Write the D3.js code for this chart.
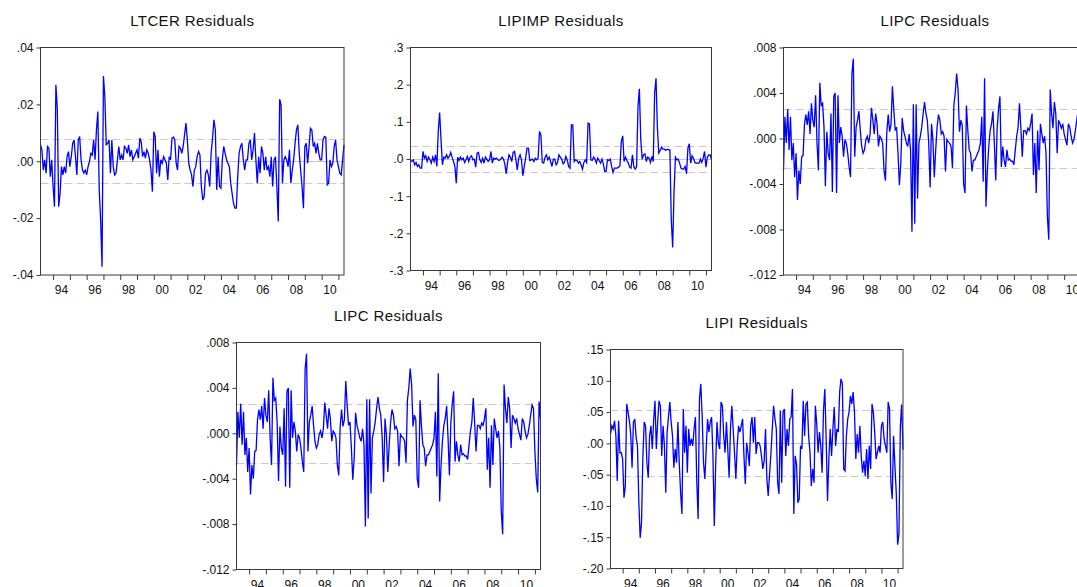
<!DOCTYPE html>
<html>
<head>
<meta charset="utf-8">
<script src="https://cdn.jsdelivr.net/npm/d3@7"></script>
<style>
  html, body { margin: 0; padding: 0; background: #fff; overflow: hidden; }
  svg { display: block; font-family: "Liberation Sans", Arial, sans-serif; }
</style>
</head>
<body>
<svg id="chart" width="1077" height="587"></svg>
<script>
// Monthly residual series, first observation 1993M4 (one row per year).
const startYear = 1993, startMonth = 4;

const ltcer = [
  .0058, .004, -.0031, .0005, -.0042, .0052, .0046, -.0054, .0005,
  -.0089, -.016, .0269, .0187, -.016, -.0113, -.0019, -.0048, -.0019, -.0042, .0016, .0034,
  -.0019, .0016, .0063, .0075, .0016, -.0048, .0075, .0087, .0005, -.0031, -.0042, -.0031,
  -.0048, -.0019, -.0001, .0028, .0022, .0075, .0005, .011, .0175, -.0101, -.0207, -.0371,
  .030, .0228, .0058, .0063, .0075, -.0042, .0075, -.0019, -.0048, -.0042, .0005, .0052,
  .0005, .0022, .0005, .0052, .0046, .0028, .0058, .0016, .004, .0005, .0016, .0028,
  .004, .0011, .0081, .0069, .0016, .0034, .0011, .004, .0028, .0005, -.0031, -.0107,
  .0104, .0087, -.0042, .004, -.0054, .0005, -.0007, .0016, .0005, -.0007, -.0066, .0016,
  .0005, .0081, .0085, .0075, -.0007, -.0031, .0052, .0046, .0028, .0052, .0093, .0134,
  .0075, -.0007, -.0031, -.0048, -.0089, -.0031, -.0019, .0016, .0034, .0022, -.0089, -.0136,
  -.0124, -.0042, -.0031, -.0048, -.0089, .0028, .0081, .0146, .011, -.0101, .0016, -.0089,
  -.0095, .0005, .0052, .0028, .0005, -.0007, -.0019, -.0077, -.0113, -.0148, -.0165, -.0165,
  -.0054, .0028, .0052, .0063, .0005, -.0031, .0005, .0005, .0063, .0075, .0005, .004,
  .0099, .0005, -.0077, .0016, -.0042, .0052, .0028, -.0031, .0016, -.0031, -.0019, -.0054,
  .0016, -.0089, .0005, .0016, -.0089, -.0212, .0218, .0198, -.0077, .0005, .0016, .0005,
  -.0019, .004, -.0077, -.0031, .0005, .0063, .011, .0128, .0028, -.0031, -.0089, -.0165,
  .0052, .0063, -.0007, .0052, .0116, .011, .0052, .0063, .0028, .0063, .0028, .0005,
  .0005, .0075, .0087, .0085, -.0083, -.0077, .0005, -.0019, -.0007, .0052, .0075, .0005,
  -.0019, -.0042, -.0048, .0005, .0058
];

const lipimp = [
  -.0039, -.0066, -.0022, -.0156, -.0093, -.0201, -.0156, -.0246, -.0246,
  .0203, .0023, .0086, -.0066, .005, -.0022, -.0111, .005, -.0066, .0113, -.0201, .074,
  .125, .0517, -.0156, .005, .0023, .0113, .0023, .0068, .0176, .005, -.0066, -.0201,
  -.065, .005, -.0039, .005, -.0022, .0023, -.0093, -.0022, .0068, -.0066, .005, .0086,
  -.0022, -.0004, -.0219, .0158, .0176, -.0022, -.0093, .0023, -.0111, .005, -.0004, -.0066,
  -.0022, .0203, -.0111, .0023, -.0004, .0023, -.0022, -.0039, -.0004, .005, -.0004, -.0129,
  -.0398, -.0093, .0113, .005, -.0066, .0176, .0203, -.0022, -.0291, .0023, .0113, -.0022,
  -.0452, -.0201, .0023, .0292, .0292, -.0039, -.0022, -.0004, -.0066, .0023, -.0022, .0023,
  .074, .065, -.0093, -.0111, .005, .0113, -.0022, .005, -.0066, -.0201, -.0004, -.0004,
  -.0156, -.0093, .0113, .005, -.0004, -.0129, -.0093, .0068, -.0022, -.0201, -.0246, .092,
  .092, -.0066, -.0022, -.0039, -.0111, -.0066, -.0156, -.0273, -.0093, -.0022, -.0093, .0965,
  .0947, -.0022, -.0039, .005, -.0004, -.0111, .0023, -.0039, -.0111, -.0004, -.0129, -.0335,
  -.0335, -.0022, -.0039, -.0004, -.0201, -.0362, -.0246, -.0246, -.0246, -.0219, -.0183, .0472,
  .0624, -.0066, .005, -.0039, -.0111, -.0219, -.0246, .0113, -.0201, -.0273, -.0201, .141,
  .189, .0534, -.0004, .0113, .014, -.0066, .005, .0023, -.0093, .0068, -.0066, .177,
  .217, .083, .0158, .023, .0319, .0265, .0265, .023, .0265, .0248, .0248, -.1636,
  -.2381, -.0874, .005, -.0022, -.0004, -.0111, -.0246, -.0273, -.0273, -.0201, -.0398, .0292,
  .0409, -.0111, .0086, .0023, -.0093, -.0111, -.0111, -.0111, -.0004, -.0093, .0023, .0203,
  -.0219, .005, .0113, .0113, -.0022
];

const lipc = [
  -.0028, .0019, -.0004, .0026, -.001, .0019, -.0019, -.0004, -.0034,
  -.0013, -.0054, -.0028, -.004, -.0016, -.0015, .0012, .0021, .0012, .0024, .0004, .0031,
  .0016, .001, .0038, -.0004, -.0028, .0049, .0029, .0031, .001, -.0042, .0006, -.0013,
  -.0019, .0022, -.0047, .0037, .004, -.0048, .0038, -.0004, .001, .0002, -.0016, -.0001,
  -.0004, -.0013, -.0025, -.0034, .0057, .007, -.0016, .001, .0016, .0024, .0007, -.0007,
  -.0013, -.001, -.0001, .0002, -.0004, .0004, .0027, .0016, .0004, .0022, .0013, -.0007,
  .0002, 0, -.0004, -.0028, -.0037, .0006, .0021, .0006, .0012, .0046, .0025, .0007,
  .001, -.0013, -.0041, -.0022, .0018, .0007, .0002, -.0004, -.0007, .0004, -.001, -.0082,
  .003, -.0075, .003, -.0053, -.0004, .0002, .001, .0022, .0032, .0022, .0016, -.0004,
  -.0043, .0013, -.0001, -.0034, -.001, .001, .0021, .0016, .0004, .0006, .0002, -.0029,
  -.0001, -.0003, -.0004, -.0007, -.0026, .0029, .004, .0057, .0043, .0006, .0016, .0012,
  -.004, -.0048, .0029, .0007, -.001, -.0013, -.0029, -.0019, -.0019, -.0016, -.0013, -.001,
  -.0004, .0019, -.0038, .0053, -.006, -.0028, -.0007, .0007, .0013, .0024, -.0004, -.0037,
  .0009, .0026, .0037, -.0025, -.0007, -.0019, -.0025, -.001, -.0019, -.0018, -.002, -.002,
  -.0023, -.001, .0002, .001, .0031, .0009, -.0016, .0007, .0007, .0004, .0009, .0007,
  .0013, .0022, -.0032, -.0004, -.0048, .0007, -.0028, .0013, .0004, -.0004, .0002, -.0013,
  -.0069, -.0089, .0043, .0022, .0009, .0032, .0022, -.0013, .0016, .0013, .0009, .0013,
  .0004, -.0001, -.0006, .0013, .001, .0002, -.0004, -.0001, .0007, .0016, .0025, .0022,
  -.0016, -.004, -.0052, .0028, .0013
];

const lipi = [
  .015, .028, .023, .036, .012, -.060, .036, -.015, -.015,
  -.025, -.087, -.068, .063, .050, .036, .015, -.039, .034, .039, .010, -.004,
  -.092, -.151, -.127, -.023, .034, .028, -.031, -.055, .012, .028, -.009, .036,
  .068, -.009, .034, .068, .060, -.020, .028, -.004, -.079, .018, .042, .066,
  .034, .012, -.039, -.009, -.031, .034, -.031, -.079, -.113, .055, -.015, .028,
  -.047, .023, -.004, .007, -.004, .023, .042, -.060, -.121, .071, .095, .044,
  -.031, -.057, -.009, .039, .018, .034, .042, -.020, -.132, -.036, .034, .001,
  -.009, .066, .060, .012, -.015, .034, -.009, -.055, .023, .060, .023, -.015,
  -.057, -.004, .028, .018, .028, .039, -.020, -.065, .001, -.015, -.036, .028,
  .042, .001, .042, -.017, .001, .001, -.004, -.020, -.041, -.028, .023, -.057,
  -.084, -.049, -.017, .023, .060, .039, .023, -.063, -.081, .052, -.063, .050,
  .055, -.020, .023, -.004, .039, .042, .087, -.113, -.020, -.033, -.095, -.089,
  -.004, -.009, .068, .012, .063, .066, .012, -.015, -.068, -.041, -.063, .060,
  .031, -.015, .018, -.004, -.047, .052, .087, .007, -.092, -.025, .023, -.020,
  .023, .058, -.004, .023, .018, .082, .103, .095, -.041, -.044, .012, .039,
  .050, .076, .063, .082, .050, -.025, .015, -.015, .028, -.020, -.047, -.028,
  -.052, -.009, -.057, -.004, -.041, .063, .050, .018, -.025, -.015, -.004, -.015,
  .028, .034, .007, -.004, -.015, .066, .055, -.063, -.089, .012, -.036, -.079,
  -.162, -.145, .025, .062, -.010
];

// ±1 standard-error bands drawn as dashed guides
const seLtcer = .0078, seLipimp = .0363, seLipc = .0026, seLipi = .0527;

// Axis tick labels (values are parsed from the labels)
const ltcerTicks  = [".04", ".02", ".00", "-.02", "-.04"];
const lipimpTicks = [".3", ".2", ".1", ".0", "-.1", "-.2", "-.3"];
const lipcTicks   = [".008", ".004", ".000", "-.004", "-.008", "-.012"];
const lipiTicks   = [".15", ".10", ".05", ".00", "-.05", "-.10", "-.15", "-.20"];
const yearTicks   = d3.range(1994, 2012);
const yearLabels  = ["94", "96", "98", "00", "02", "04", "06", "08", "10"];
const labelYears  = d3.range(1994, 2011, 2);

const panels = [
  { title: "LTCER Residuals",  series: ltcer,  ticks: ltcerTicks,  se: seLtcer,  box: [40.5, 47.5, 303.5, 227.5] },
  { title: "LIPIMP Residuals", series: lipimp, ticks: lipimpTicks, se: seLipimp, box: [410.5, 47.5, 301, 223] },
  { title: "LIPC Residuals",   series: lipc,   ticks: lipcTicks,   se: seLipc,   box: [783.5, 47.5, 303, 227.5] },
  { title: "LIPC Residuals",   series: lipc,   ticks: lipcTicks,   se: seLipc,   box: [236.5, 342.5, 304, 227] },
  { title: "LIPI Residuals",   series: lipi,   ticks: lipiTicks,   se: seLipi,   box: [610.5, 349.5, 292.5, 219] }
];

const svg = d3.select("#chart");
const t0 = startYear + (startMonth - 1) / 12;

panels.forEach(p => {
  const [bx, by, bw, bh] = p.box;
  const g = svg.append("g");
  const tickVals = p.ticks.map(Number);
  const y = d3.scaleLinear().domain(d3.extent(tickVals)).range([by + bh, by]);
  const x = d3.scaleLinear().domain([t0, t0 + (p.series.length - 1) / 12]).range([bx, bx + bw]);

  // zero line and standard-error guides
  g.append("line")
    .attr("x1", bx).attr("x2", bx + bw)
    .attr("y1", Math.round(y(0)) + 0.5).attr("y2", Math.round(y(0)) + 0.5)
    .attr("stroke", "#c4c4c4").attr("stroke-width", 1);
  [p.se, -p.se].forEach(v => {
    g.append("line")
      .attr("x1", bx).attr("x2", bx + bw)
      .attr("y1", Math.round(y(v)) + 0.5).attr("y2", Math.round(y(v)) + 0.5)
      .attr("stroke", "#cacaca").attr("stroke-width", 1)
      .attr("stroke-dasharray", "8,4");
  });

  // residual line
  const line = d3.line()
    .x((d, i) => x(t0 + i / 12))
    .y(d => y(d));
  g.append("path")
    .datum(p.series)
    .attr("d", line)
    .attr("fill", "none")
    .attr("stroke", "#0000ff")
    .attr("stroke-width", 1.3)
    .attr("stroke-linejoin", "miter");

  // frame
  g.append("rect")
    .attr("x", bx).attr("y", by).attr("width", bw).attr("height", bh)
    .attr("fill", "none").attr("stroke", "#3a3a3a").attr("stroke-width", 1);

  // left axis
  const ya = d3.axisLeft(y)
    .tickValues(tickVals)
    .tickFormat((d, i) => p.ticks[i])
    .tickSize(4).tickPadding(3);
  const yg = g.append("g").attr("transform", `translate(${bx},0)`).call(ya);
  yg.select(".domain").remove();
  yg.selectAll(".tick line").attr("stroke", "#3a3a3a");
  yg.selectAll("text").attr("font-size", 12).attr("fill", "#111")
    .attr("font-family", "Liberation Sans, Arial, sans-serif");

  // bottom axis: yearly ticks, labels centred on every other year
  const xa = d3.axisBottom(x).tickValues(yearTicks).tickFormat("").tickSize(5);
  const xg = g.append("g").attr("transform", `translate(0,${by + bh})`).call(xa);
  xg.select(".domain").remove();
  xg.selectAll(".tick line").attr("stroke", "#3a3a3a");
  g.selectAll(null)
    .data(labelYears)
    .enter().append("text")
    .attr("x", d => x(d + 0.5))
    .attr("y", by + bh + 19)
    .attr("text-anchor", "middle")
    .attr("font-size", 12).attr("fill", "#111")
    .text((d, i) => yearLabels[i]);

  // title
  g.append("text")
    .attr("x", bx + bw / 2)
    .attr("y", by - 22)
    .attr("text-anchor", "middle")
    .attr("font-size", 15)
    .attr("letter-spacing", "0.4px")
    .attr("fill", "#111")
    .text(p.title);
});
</script>
</body>
</html>
